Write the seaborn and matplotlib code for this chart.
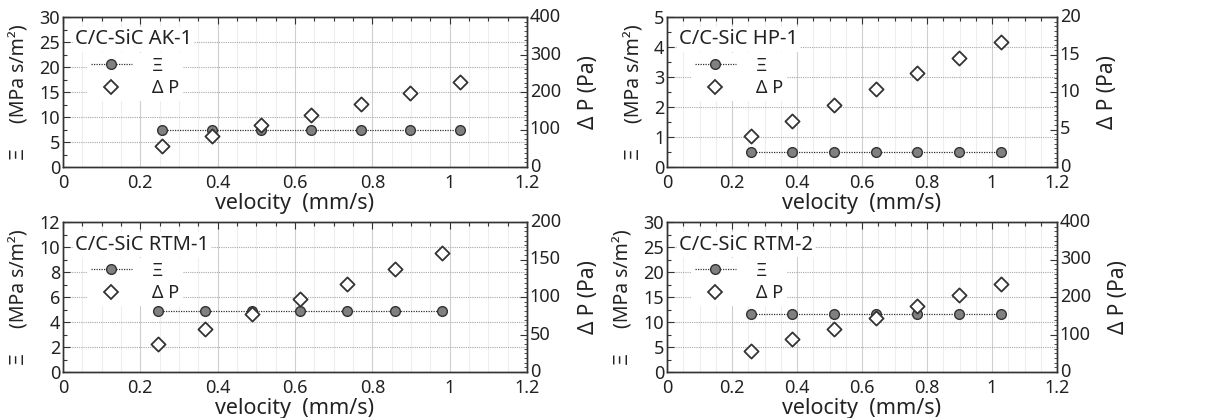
import numpy as np
import pandas as pd
import matplotlib
matplotlib.use("Agg")
import matplotlib.pyplot as plt
from matplotlib.lines import Line2D
from matplotlib.ticker import MultipleLocator, AutoMinorLocator
import seaborn as sns

sns.set_style("white")
plt.rcParams['font.family'] = ['Noto Sans', 'DejaVu Sans']
plt.rcParams['text.color'] = '#222222'
plt.rcParams['axes.labelcolor'] = '#222222'
plt.rcParams['xtick.labelcolor'] = '#222222'
plt.rcParams['ytick.labelcolor'] = '#222222'

# ---- data ----
titles = ["C/C-SiC AK-1", "C/C-SiC HP-1", "C/C-SiC RTM-1", "C/C-SiC RTM-2"]

vel_ak1 = [0.257, 0.385, 0.513, 0.642, 0.770, 0.898, 1.027]
xi_ak1 = [7.5, 7.5, 7.5, 7.5, 7.5, 7.5, 7.5]
dp_ak1 = [55, 82, 111, 140, 168, 198, 228]

vel_hp1 = [0.257, 0.385, 0.513, 0.642, 0.770, 0.898, 1.027]
xi_hp1 = [0.5, 0.5, 0.5, 0.5, 0.5, 0.5, 0.5]
dp_hp1 = [4.1, 6.2, 8.3, 10.4, 12.5, 14.6, 16.7]

vel_rtm1 = [0.245, 0.367, 0.490, 0.613, 0.735, 0.858, 0.980]
xi_rtm1 = [4.9, 4.9, 4.9, 4.9, 4.9, 4.9, 4.9]
dp_rtm1 = [38, 58, 78, 98, 118, 138, 159]

vel_rtm2 = [0.257, 0.385, 0.513, 0.642, 0.770, 0.898, 1.027]
xi_rtm2 = [11.6, 11.6, 11.6, 11.6, 11.6, 11.6, 11.6]
dp_rtm2 = [57, 87, 116, 144, 175, 205, 235]

xi_lims = [30, 5, 12, 30]
xi_steps = [5, 1, 2, 5]
dp_lims = [400, 20, 200, 400]
dp_steps = [100, 5, 50, 100]

datasets = [(vel_ak1, xi_ak1, dp_ak1), (vel_hp1, xi_hp1, dp_hp1),
            (vel_rtm1, xi_rtm1, dp_rtm1), (vel_rtm2, xi_rtm2, dp_rtm2)]

W, H = 1211, 418
fig = plt.figure(figsize=(W / 100, H / 100), dpi=100)

# axes rectangles in pixels (left, top, right, bottom)
rects = [(63, 17, 527, 167), (667, 17, 1057, 167),
         (63, 222, 527, 372), (667, 222, 1057, 372)]

EDGE = "#333333"
for i, ((l, t, r, b), (v, xi, dp)) in enumerate(zip(rects, datasets)):
    ax = fig.add_axes([l / W, 1 - b / H, (r - l) / W, (b - t) / H])
    ax2 = ax.twinx()
    df = pd.DataFrame({"velocity": v, "xi": xi, "dp": dp})

    sns.lineplot(data=df, x="velocity", y="xi", ax=ax, color=EDGE,
                 linestyle=(0, (1, 1)), linewidth=0.9, marker="o",
                 markersize=7, markerfacecolor="#808080",
                 markeredgecolor=EDGE, markeredgewidth=1.0, zorder=3)
    sns.scatterplot(data=df, x="velocity", y="dp", ax=ax2, marker="D",
                    s=52, facecolor="white", edgecolor=EDGE,
                    linewidth=1.3, zorder=3)

    ax.set_xlim(0, 1.2)
    ax.set_ylim(0, xi_lims[i])
    ax2.set_ylim(0, dp_lims[i])
    ax.xaxis.set_major_locator(MultipleLocator(0.2))
    ax.xaxis.set_minor_locator(MultipleLocator(0.05))
    ax.yaxis.set_major_locator(MultipleLocator(xi_steps[i]))
    ax.yaxis.set_minor_locator(AutoMinorLocator(2))
    ax2.yaxis.set_major_locator(MultipleLocator(dp_steps[i]))
    ax2.yaxis.set_minor_locator(AutoMinorLocator(8))
    ax.set_xticks([0, 0.2, 0.4, 0.6, 0.8, 1.0, 1.2])
    ax.set_xticklabels(["0", "0.2", "0.4", "0.6", "0.8", "1", "1.2"])

    ax.grid(True, which="major", axis="y", color="#a8a8a8",
            linestyle=(0, (1, 1)), linewidth=0.8)
    ax.grid(True, which="major", axis="x", color="#cfcfcf",
            linestyle="-", linewidth=0.8)
    ax.grid(True, which="minor", axis="x", color="#eeeeee",
            linestyle="-", linewidth=0.8)
    ax.set_axisbelow(True)

    for a in (ax, ax2):
        for s in a.spines.values():
            s.set_color(EDGE)
            s.set_linewidth(1.0)
    ax.tick_params(axis="x", which="major", pad=5)
    ax.tick_params(axis="y", which="major", pad=2)
    ax.tick_params(axis="both", which="major", direction="in", length=5,
                   width=0.8, color=EDGE, labelsize=13,
                   top=True, right=False)
    ax.tick_params(axis="both", which="minor", direction="in", length=3,
                   width=0.8, color=EDGE, top=True, right=False)
    ax2.tick_params(axis="y", which="major", direction="in", length=5,
                    width=0.8, color=EDGE, labelsize=13, pad=2)
    ax2.tick_params(axis="y", which="minor", direction="in", length=2.5,
                    width=0.6, color=EDGE)
    for lab in ax2.get_yticklabels():
        lab.set_verticalalignment("center")

    ax.set_xlabel("velocity  (mm/s)", fontsize=15.5, labelpad=0.5)
    ax.set_ylabel("Ξ     (MPa s/m²)", fontsize=14, labelpad=7)
    ax2.set_ylabel("Δ P (Pa)", fontsize=15, labelpad=12)

    ax2.text(12 / (r - l), 0.85, titles[i], transform=ax2.transAxes,
             fontsize=14.5, ha="left", va="center", color="#222222",
             bbox=dict(facecolor="white", edgecolor="none", pad=1.5))

    h1 = Line2D([], [], color=EDGE, linestyle=(0, (1, 1)), linewidth=0.9,
                marker="o", markersize=7, markerfacecolor="#808080",
                markeredgecolor=EDGE)
    h2 = Line2D([], [], linestyle="none", marker="D", markersize=7.2,
                markerfacecolor="white", markeredgecolor=EDGE,
                markeredgewidth=1.3)
    axw = (r - l)
    leg = ax2.legend([h1, h2], ["Ξ", "Δ P"], loc="upper left",
                     bbox_to_anchor=(24 / axw, 0.76), fontsize=13,
                     frameon=True, handlelength=2.3, handletextpad=1.1,
                     labelspacing=0.25, borderpad=0.2, borderaxespad=0)
    leg.get_frame().set_facecolor("white")
    leg.get_frame().set_edgecolor("none")
    leg.get_frame().set_alpha(1.0)

fig.savefig("out.png", dpi=100)
